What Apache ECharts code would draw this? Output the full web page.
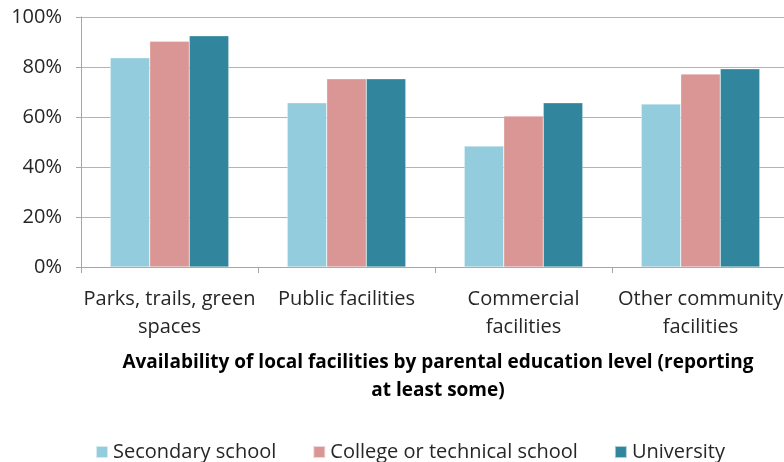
<!DOCTYPE html>
<html>
<head>
<meta charset="utf-8">
<script src="https://cdn.jsdelivr.net/npm/echarts@6/dist/echarts.min.js"></script>
<style>
  html, body { margin: 0; padding: 0; background: #fff; }
  #chart { width: 784px; height: 462px; }
</style>
</head>
<body>
<div id="chart"></div>
<script>
// Facility categories (x axis)
const categories = ['Parks, trails, green\nspaces', 'Public facilities', 'Commercial\nfacilities', 'Other community\nfacilities'];

// Share reporting at least some availability, by parental education (%)
const secondarySchool = [83.7, 65.7, 48.4, 65.2];
const collegeTechnical = [90.3, 75.3, 60.4, 77.2];
const university = [92.5, 75.3, 65.7, 79.3];

const seriesNames = ['Secondary school', 'College or technical school', 'University'];
const yTicks = [0, 20, 40, 60, 80, 100];

const FONT = '"Open Sans", sans-serif';
const TEXT = '#262626';
const GRID = '#b3b3b3';

const chart = echarts.init(document.getElementById('chart'), null, { renderer: 'canvas' });

const bar = (name, data, color) => ({
  name,
  type: 'bar',
  data,
  barGap: '0%',
  barCategoryGap: '33%',
  itemStyle: { color, borderColor: 'rgba(255,255,255,0.6)', borderWidth: 0.5 }
});

chart.setOption({
  animation: false,
  textStyle: { fontFamily: FONT },
  title: {
    text: 'Availability of local facilities by parental education level (reporting\nat least some)',
    left: 433,
    top: 344,
    textAlign: 'center',
    textStyle: { fontFamily: FONT, fontSize: 19, fontWeight: 'bold', color: '#000', lineHeight: 28 }
  },
  legend: {
    top: 437,
    left: 90,
    itemWidth: 12,
    itemHeight: 12,
    itemGap: 36,
    icon: 'rect',
    textStyle: { fontFamily: FONT, fontSize: 20, color: TEXT },
    data: seriesNames
  },
  // plot area runs slightly past the right edge of the canvas
  grid: { left: 81, width: 708, top: 17, height: 250, outerBoundsMode: 'none' },
  xAxis: {
    type: 'category',
    data: categories,
    axisLine: { lineStyle: { color: '#a6a6a6', width: 1 } },
    axisTick: { show: true, length: 6, alignWithLabel: false, lineStyle: { color: '#a6a6a6' } },
    axisLabel: { fontFamily: FONT, fontSize: 20, color: TEXT, lineHeight: 28, margin: 18, interval: 0 }
  },
  yAxis: {
    type: 'value',
    min: 0,
    max: 100,
    interval: 20,
    axisLine: { show: true, lineStyle: { color: '#a6a6a6' } },
    axisTick: { show: true, length: 5, lineStyle: { color: '#a6a6a6' } },
    splitLine: { lineStyle: { color: GRID, width: 1 } },
    axisLabel: {
      fontFamily: FONT, fontSize: 20, color: TEXT, margin: 19,
      formatter: v => yTicks.includes(v) ? v + '%' : ''
    }
  },
  series: [
    bar(seriesNames[0], secondarySchool, '#93cddd'),
    bar(seriesNames[1], collegeTechnical, '#d99694'),
    bar(seriesNames[2], university, '#31859c')
  ]
});
</script>
</body>
</html>
